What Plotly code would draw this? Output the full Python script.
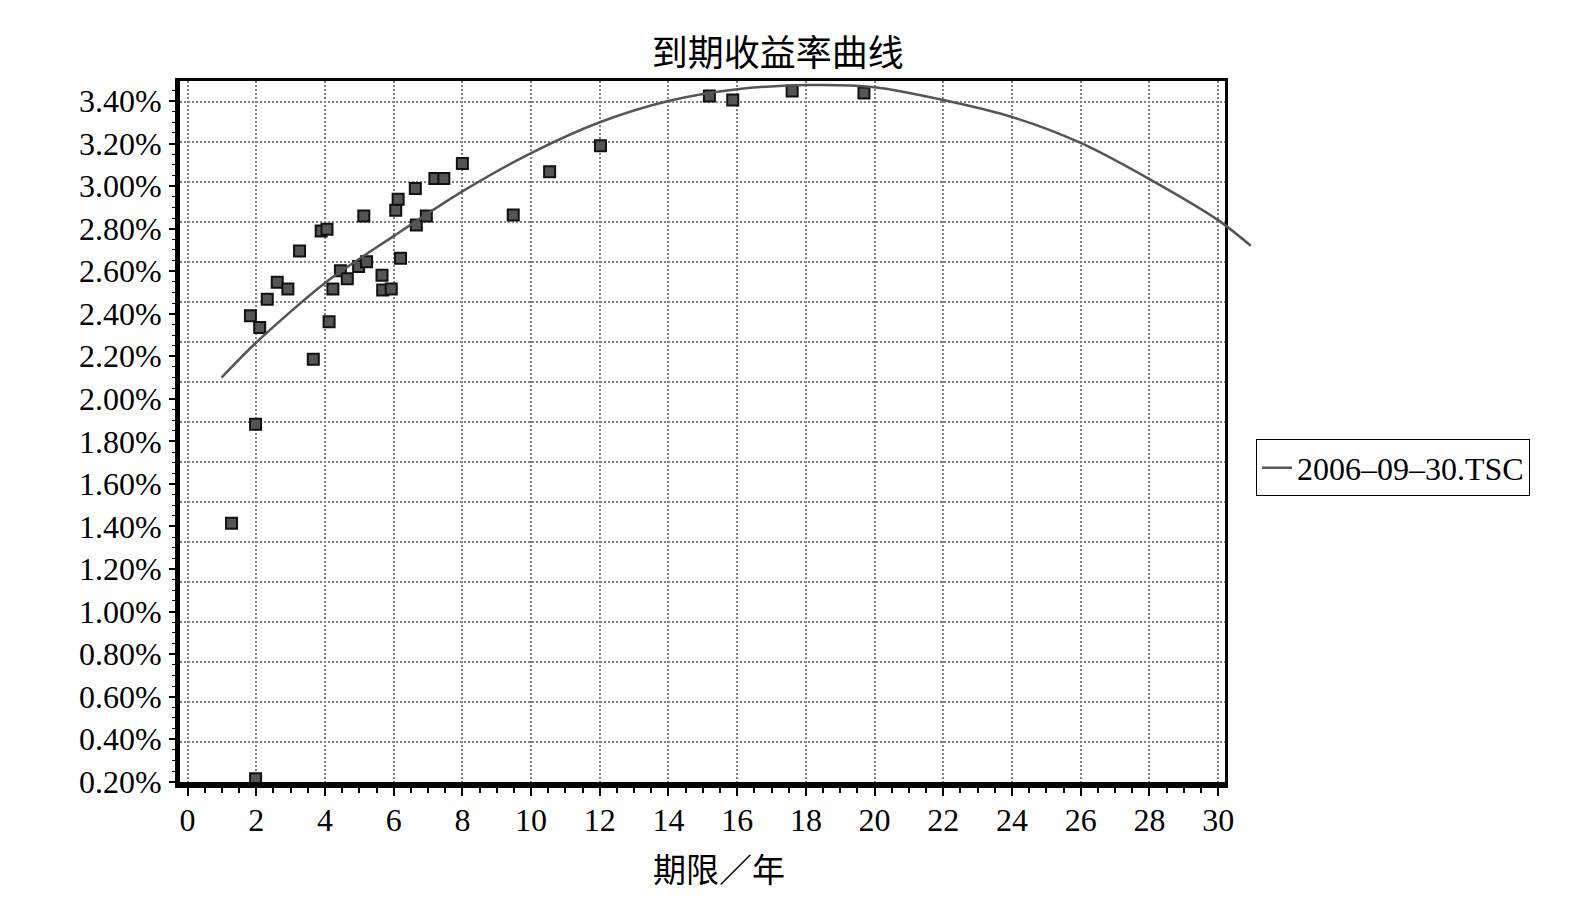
import plotly.graph_objects as go

# ---- data (yield in %, maturity in years) ----
bond_maturity = [1.28, 1.83, 1.98, 1.98, 2.10, 2.32, 2.61, 2.92, 3.26, 3.66, 3.89, 4.06, 4.12,
                 4.23, 4.45, 4.65, 4.98, 5.13, 5.21, 5.66, 5.68, 5.93, 6.06, 6.13, 6.20, 6.63,
                 6.66, 6.95, 7.20, 7.46, 8.00, 9.48, 10.54, 12.02, 15.19, 15.87, 17.60, 19.69]
bond_yield = [1.415, 2.39, 1.881, 0.214, 2.335, 2.468, 2.548, 2.516, 2.695, 2.186, 2.789, 2.797,
              2.362, 2.516, 2.602, 2.565, 2.622, 2.859, 2.644, 2.581, 2.512, 2.516, 2.887, 2.938,
              2.661, 2.989, 2.817, 2.859, 3.036, 3.036, 3.106, 2.864, 3.067, 3.190, 3.423, 3.405,
              3.447, 3.438]

curve_maturity = [0.99, 2, 4, 6, 8, 10, 12, 14, 16, 18, 20, 22, 24, 26, 28, 30, 30.95]
curve_yield = [2.10, 2.265, 2.545, 2.765, 2.975, 3.155, 3.30, 3.40, 3.455, 3.475, 3.465, 3.405,
               3.325, 3.203, 3.033, 2.84, 2.72]

series_name = "2006–09–30.TSC"
title_text = "到期收益率曲线"
x_title = "期限／年"

FONT = "Liberation Serif, Times New Roman, Noto Sans CJK SC"

# layout geometry (px)
L, R_FRAME, R_EXT, TOP, BOT = 180, 1225, 1255, 81, 782
W_EXT = R_EXT - L
FRAME_FRAC = (R_FRAME - L) / W_EXT
XR = [-0.22, 30.2]
px_per_unit = (R_FRAME - L) / (XR[1] - XR[0])
XR_EXT = [XR[0], XR[0] + W_EXT / px_per_unit]

fig = go.Figure()

fig.add_trace(go.Scatter(
    x=bond_maturity, y=bond_yield, mode="markers",
    marker=dict(symbol="square", size=11, color="#555555",
                line=dict(color="#111111", width=2)),
    showlegend=False, cliponaxis=False, hoverinfo="x+y"))

# the fitted curve runs slightly past the frame, as in the original
fig.add_trace(go.Scatter(
    x=curve_maturity, y=curve_yield, mode="lines", name=series_name,
    xaxis="x3", yaxis="y",
    line=dict(color="#555555", width=2.5, shape="spline", smoothing=0.8)))

# helper trace to materialise the overlay axes (grid + top/right frame)
fig.add_trace(go.Scatter(x=[None], y=[None], xaxis="x2", yaxis="y2",
                         showlegend=False, hoverinfo="skip"))

fig.update_layout(
    width=1584, height=921,
    margin=dict(l=L, r=1584 - R_EXT, t=TOP, b=921 - BOT),
    paper_bgcolor="white", plot_bgcolor="rgba(0,0,0,0)",
    font=dict(family=FONT, size=32, color="black"),
    showlegend=True,
    legend=dict(x=(1256 - L) / W_EXT, y=0.448, xanchor="left", yanchor="middle",
                bordercolor="black", borderwidth=1, bgcolor="white",
                font=dict(family=FONT, size=32), itemwidth=30),
    xaxis=dict(domain=[0, FRAME_FRAC], range=XR, tick0=0, dtick=2, showgrid=True,
               gridcolor="#808080", griddash="2px,2px", gridwidth=1.5,
               zeroline=False, showline=True, linecolor="black", linewidth=6,
               ticks="outside", ticklen=8, tickwidth=2, tickcolor="black",
               ticklabelstandoff=-3,
               minor=dict(dtick=0.5, ticks="outside", ticklen=5, tickwidth=2,
                          tickcolor="black", showgrid=False),
               tickfont=dict(family=FONT, size=32)),
    xaxis3=dict(domain=[0, 1], range=XR_EXT, anchor="y", visible=False),
    yaxis=dict(range=[0.199, 3.494], tick0=0.2, dtick=0.2, tickformat=".2f",
               ticksuffix="%", showgrid=False, zeroline=False,
               showline=True, linecolor="black", linewidth=5,
               ticks="outside", ticklen=6, tickwidth=1.5, tickcolor="black",
               ticklabelstandoff=1, anchor="x",
               minor=dict(dtick=0.05, ticks="outside", ticklen=3, tickwidth=1,
                          tickcolor="black", showgrid=False),
               tickfont=dict(family=FONT, size=32)),
    xaxis2=dict(domain=[0, FRAME_FRAC], range=XR, overlaying="x", side="top",
                anchor="y2", showgrid=False, zeroline=False, showticklabels=False,
                ticks="", showline=True, linecolor="black", linewidth=3),
    yaxis2=dict(range=[0, 17.525], tick0=0, dtick=1, overlaying="y", side="right",
                anchor="x2", showgrid=True, gridcolor="#808080", griddash="2px,2px",
                gridwidth=1.5, zeroline=False, showticklabels=False, ticks="",
                showline=True, linecolor="black", linewidth=3),
    title=dict(text=title_text, x=0.491, xref="container", xanchor="center",
               y=1 - 53 / 921, yref="container", yanchor="middle",
               font=dict(family=FONT, size=36)),
    annotations=[dict(text=x_title, xref="paper", yref="paper",
                      x=(719 - L) / W_EXT, y=-(871 - BOT) / (BOT - TOP),
                      xanchor="center", yanchor="middle", showarrow=False,
                      font=dict(family=FONT, size=33))],
)

fig.write_html("out.html")
